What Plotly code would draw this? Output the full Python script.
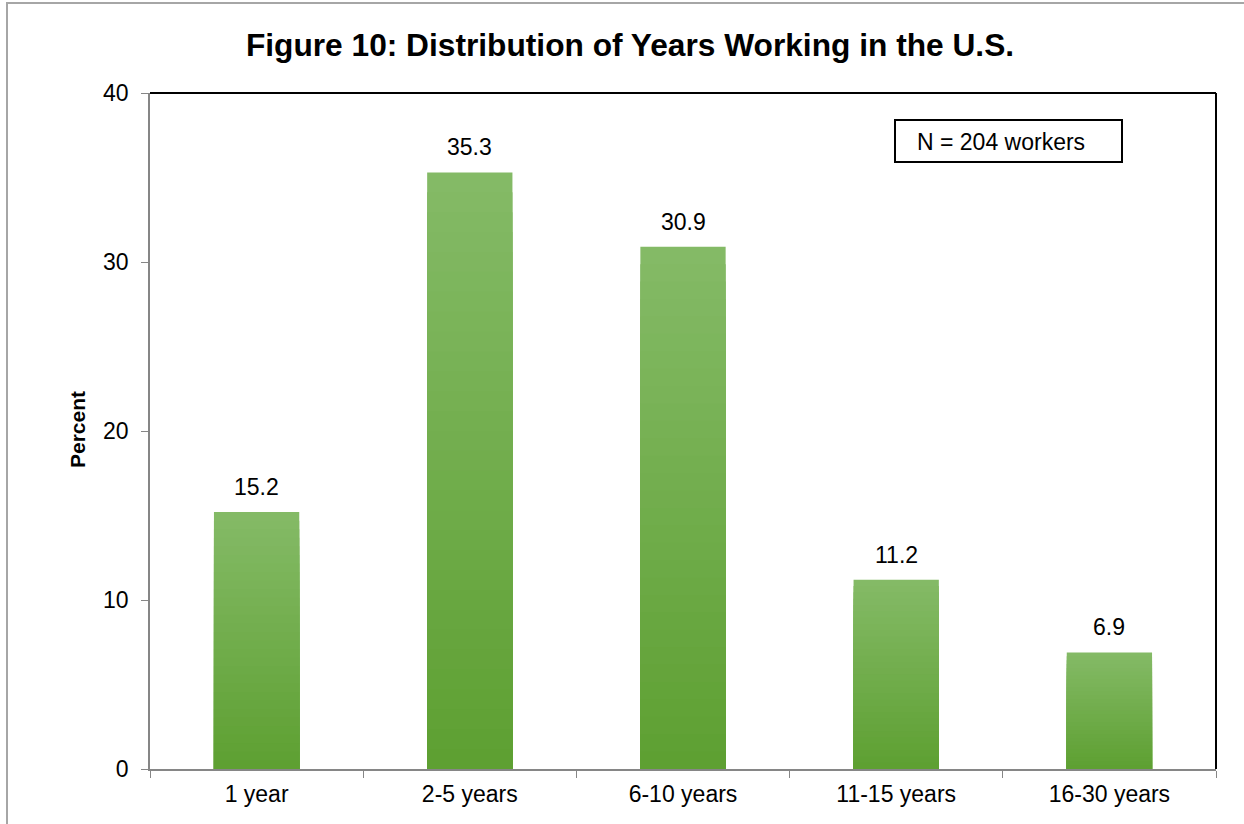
import plotly.graph_objects as go

categories = ["1 year", "2-5 years", "6-10 years", "11-15 years", "16-30 years"]
percent = [15.2, 35.3, 30.9, 11.2, 6.9]
y_ticks = [0, 10, 20, 30, 40]
note_text = "N = 204 workers"
title_text = "Figure 10: Distribution of Years Working in the U.S."

FONT = "Arial, Liberation Sans, sans-serif"
top_rgb = (0x84, 0xBA, 0x66)
bot_rgb = (0x5E, 0xA0, 0x32)

W, H = 1244, 824
L, R, T, B = 150, 1216, 93, 769
PW, PH = R - L, B - T


def px(x):
    return (x - L) / PW


def py(y):
    return (B - y) / PH


fig = go.Figure()
N = 30
for k in range(N):
    f = 1 - k / N
    t = k / (N - 1)
    c = tuple(round(top_rgb[i] + (bot_rgb[i] - top_rgb[i]) * t) for i in range(3))
    fig.add_trace(go.Bar(
        x=categories, y=[v * f for v in percent],
        marker=dict(color="rgb(%d,%d,%d)" % c, line=dict(width=0)),
        showlegend=False, hoverinfo="skip",
    ))

annotations = [
    dict(x=c, y=v, xref="x", yref="y", text="%.1f" % v, showarrow=False,
         xanchor="center", yanchor="bottom", yshift=10,
         font=dict(family=FONT, size=23, color="black"))
    for c, v in zip(categories, percent)
]
annotations.append(dict(text=note_text, xref="paper", yref="paper",
                        x=px(1001), y=py(142), xanchor="center", yanchor="middle",
                        showarrow=False, font=dict(family=FONT, size=23, color="black")))
annotations.append(dict(text="<b>Percent</b>", xref="paper", yref="paper",
                        x=px(77), y=py(430), xanchor="center", yanchor="middle",
                        textangle=-90, showarrow=False,
                        font=dict(family=FONT, size=21, color="black")))

fig.update_layout(
    width=W, height=H,
    margin=dict(l=L, r=W - R, t=T, b=H - B, pad=0),
    paper_bgcolor="white", plot_bgcolor="white",
    barmode="overlay", bargap=0.6,
    font=dict(family=FONT, size=23, color="black"),
    title=dict(text="<b>" + title_text + "</b>", x=630 / W, xanchor="center",
               y=1 - 45 / H, yanchor="middle",
               font=dict(family=FONT, size=31.7, color="black")),
    xaxis=dict(showgrid=False, showline=True, linecolor="#868686", linewidth=1.5,
               ticks="outside", ticklen=7, tickcolor="#868686", tickson="boundaries",
               ticklabelstandoff=4,
               tickfont=dict(family=FONT, size=23, color="black")),
    yaxis=dict(range=[0, 40], tickvals=y_ticks, showgrid=False, zeroline=False,
               showline=True, linecolor="#868686", linewidth=1.5,
               ticks="outside", ticklen=7, tickcolor="#868686",
               ticklabelstandoff=8,
               tickfont=dict(family=FONT, size=23, color="black")),
    shapes=[
        dict(type="line", xref="paper", yref="paper", x0=0, x1=1, y0=1, y1=1,
             line=dict(color="black", width=2)),
        dict(type="line", xref="paper", yref="paper", x0=1, x1=1, y0=0, y1=1,
             line=dict(color="black", width=2)),
        dict(type="rect", xref="paper", yref="paper",
             x0=px(895), x1=px(1122), y0=py(162), y1=py(120),
             line=dict(color="black", width=2), fillcolor="white", layer="below"),
        dict(type="rect", xref="paper", yref="paper",
             x0=px(7), x1=px(1260), y0=py(840), y1=py(3),
             line=dict(color="#A6A6A6", width=2)),
    ],
    annotations=annotations,
)

fig.write_html("out.html", config={"displayModeBar": False},
               post_script="document.body.style.margin='0';")
